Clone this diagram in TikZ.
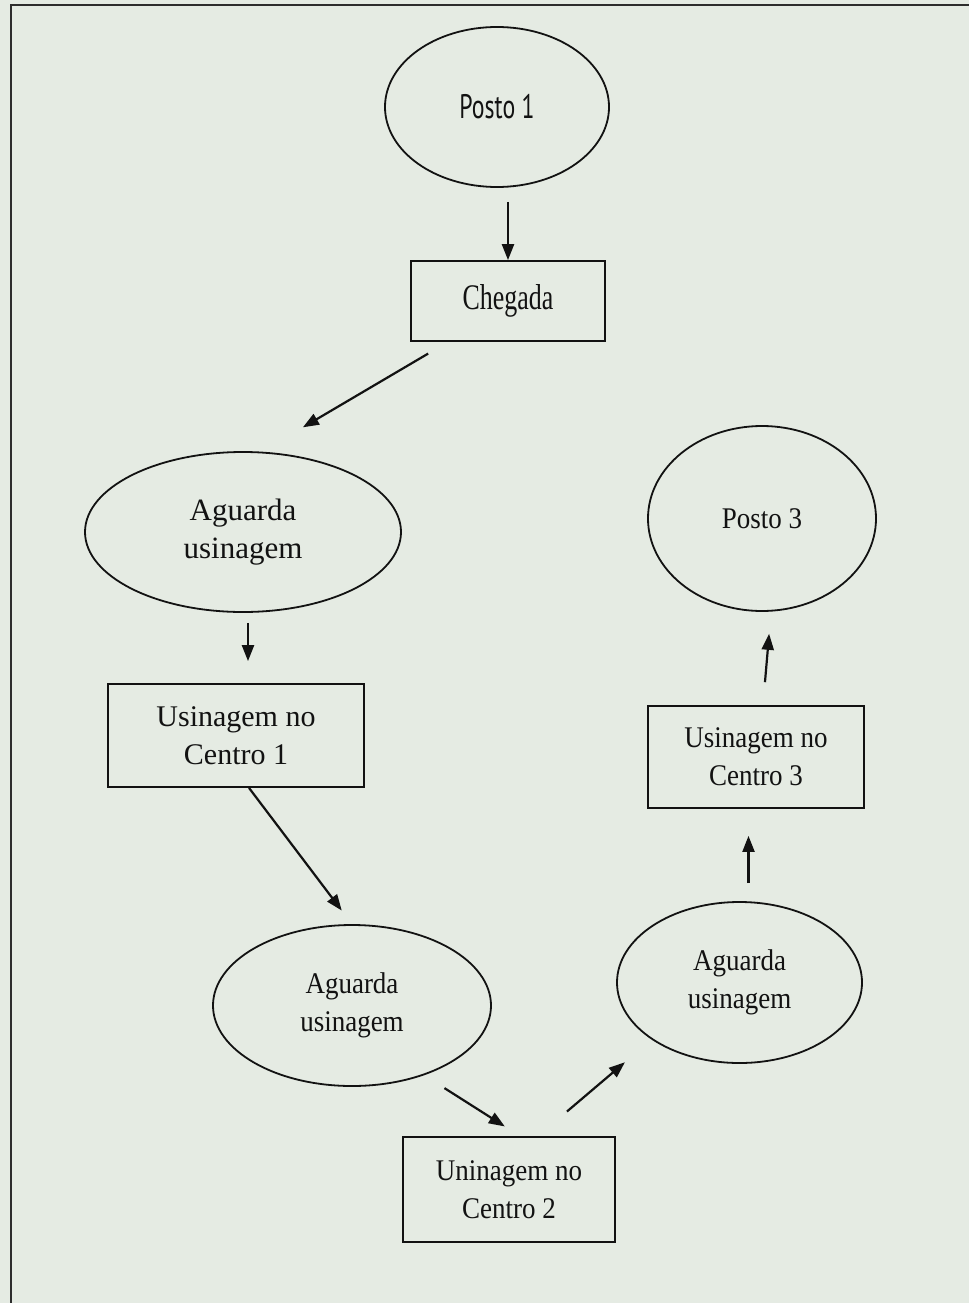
\documentclass[tikz,border=0pt]{standalone}
\usepackage{fontspec}
\setmainfont{Liberation Serif}
\newfontfamily\narrowserif{Liberation Serif}[FakeStretch=0.9]
\newfontfamily\tallserif{Liberation Serif}[FakeStretch=0.72]
\newfontfamily\postofont{PT Sans}[FakeStretch=0.7]
\usetikzlibrary{shapes.geometric,arrows.meta}
\definecolor{paper}{RGB}{229,235,227}
\definecolor{ink}{RGB}{18,18,18}
\definecolor{framecol}{RGB}{45,45,45}

\begin{document}
\begin{tikzpicture}[x=1pt,y=-1pt,
  every node/.style={font=\fontsize{30}{38}\selectfont, text=ink, align=center, inner sep=0pt},
  narrowtext/.style={font=\narrowserif\fontsize{30}{38}\selectfont},
  state/.style={ellipse, draw=ink, line width=1.8pt},
  activity/.style={rectangle, draw=ink, line width=1.8pt},
  flow/.style={draw=ink, line width=2.2pt, -{Triangle[length=16pt,width=12pt]}},
]
% page background and frame
\fill[paper] (0,0) rectangle (969,1303);
\useasboundingbox (0,0) rectangle (969,1303);
\draw[framecol, line width=2pt] (11,1303) -- (11,5) -- (969,5);

% states and activities
\node[state, minimum width=224pt, minimum height=160pt, font=\postofont\fontsize{34}{38}\selectfont] (p1) at (497,107) {Posto 1};
\node[activity, minimum width=194pt, minimum height=80pt, font=\tallserif\fontsize{36}{38}\selectfont] (cheg) at (508,301) {Chegada};
\node[state, minimum width=316pt, minimum height=160pt, font=\fontsize{31}{38}\selectfont] (a1) at (243,532) {Aguarda\\usinagem};
\node[activity, minimum width=256pt, minimum height=103pt] (c1) at (236,735.5) {Usinagem no\\Centro 1};
\node[state, narrowtext, minimum width=278pt, minimum height=161pt] (a2) at (352,1005.5) {Aguarda\\usinagem};
\node[activity, narrowtext, minimum width=212pt, minimum height=105pt] (u2) at (509,1189.5) {Uninagem no\\Centro 2};
\node[state, narrowtext, minimum width=245pt, minimum height=161pt] (a3) at (739.5,982.5) {Aguarda\\usinagem};
\node[activity, narrowtext, minimum width=216pt, minimum height=102pt] (c3) at (756,757) {Usinagem no\\Centro 3};
\node[state, narrowtext, minimum width=228pt, minimum height=185pt] (p3) at (762,518.5) {Posto 3};

% flow of parts
\draw[flow, shorten <=14pt] (p1.south -| cheg.north) -- (cheg.north);
\draw[flow, shorten <=23pt, shorten >=48pt] ([xshift=-60pt]cheg.south) -- (a1.77);
\draw[flow, shorten <=10pt, shorten >=22pt] ([xshift=5pt]a1.south) -- ([xshift=5pt]a1.south |- c1.north);
\draw[flow, shorten >=17pt] ([xshift=13pt]c1.south) -- (a2.north);
\draw[flow, shorten <=24pt, shorten >=18pt] (a2.-44) -- ([xshift=11pt]u2.north);
\draw[flow, shorten <=38pt, shorten >=35pt] ([xshift=29pt]u2.north) -- (a3.-147);
\draw[flow, shorten <=18pt, shorten >=27pt] ([xshift=9pt]a3.north) -- ([xshift=9pt]a3.north |- c3.south);
\draw[flow, shorten <=23pt, shorten >=22pt] ([xshift=7pt]c3.north) -- ([xshift=9pt]p3.south);
\end{tikzpicture}
\end{document}
